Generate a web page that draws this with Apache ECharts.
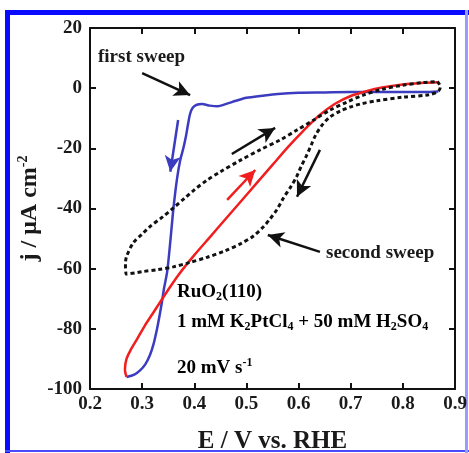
<!DOCTYPE html>
<html><head><meta charset="utf-8">
<script src="https://cdn.jsdelivr.net/npm/echarts@6/dist/echarts.min.js"></script>
<style>html,body{margin:0;padding:0;background:#fff}#c{width:469px;height:453px}</style>
</head><body><div id="c"></div>
<script>
// ---- data ----
const xTickLabels = ['0.2','0.3','0.4','0.5','0.6','0.7','0.8','0.9'];
const yTickLabels = ['-100','-80','-60','-40','-20','0','20'];

// first sweep (blue), cathodic from 0.87 V
const firstE = [0.868,0.84,0.80,0.75,0.70,0.65,0.60,0.56,0.53,0.50,0.48,0.46,0.445,0.43,0.415,0.405,0.397,0.392,0.388,0.384,0.379,0.373,0.367,0.36,0.354,0.348,0.342,0.338,0.333,0.328,0.322,0.315,0.306,0.296,0.285,0.27];
const firstJ = [-1.1,-1.3,-1.3,-1.3,-1.3,-1.4,-1.5,-1.9,-2.5,-3.2,-4.2,-5.3,-6.0,-5.8,-5.3,-5.5,-6.5,-8.5,-12,-16,-20,-24,-30,-40,-51,-61,-66.5,-71,-76,-80.5,-85,-88.7,-91.8,-93.8,-95.2,-96];

// return sweep (red), anodic from 0.27 V
const returnE = [0.27,0.267,0.27,0.278,0.29,0.305,0.32,0.335,0.35,0.37,0.40,0.43,0.46,0.49,0.52,0.55,0.58,0.61,0.64,0.67,0.70,0.73,0.76,0.80,0.84,0.866];
const returnJ = [-96,-93.5,-90,-87,-83.5,-79,-75,-71,-67,-62,-55.5,-49.5,-43.5,-37.5,-31.5,-25.5,-19.5,-14,-9,-5.2,-2.6,-1,0.2,1.2,1.8,2];

// second sweep (black dotted)
const secondE = [0.866,0.872,0.868,0.85,0.80,0.75,0.72,0.70,0.68,0.66,0.645,0.633,0.624,0.615,0.605,0.596,0.585,0.571,0.558,0.545,0.533,0.513,0.49,0.46,0.425,0.39,0.36,0.33,0.30,0.27,0.268,0.27,0.283,0.30,0.315,0.34,0.36,0.38,0.40,0.425,0.45,0.488,0.526,0.565,0.597,0.629,0.66,0.693,0.724,0.76,0.80,0.84,0.866];
const secondJ = [2.2,0.5,-1.0,-2.2,-3.0,-4.2,-5.2,-6.2,-7.6,-9.6,-12.3,-15.5,-19,-22.5,-26,-29.5,-32.8,-36.5,-40.5,-43.5,-46,-49.2,-51.6,-54,-56.2,-58,-59.4,-60.3,-61,-61.8,-58.5,-56,-51.4,-48.5,-46,-42.7,-39.8,-36.8,-33.8,-30.5,-27.8,-24,-20.5,-17.2,-13.9,-10.6,-7.3,-4.6,-2.3,-0.4,1.0,1.9,2.2];

// arrows: [tailE, tailJ, headE, headJ, colour]
const arrows = [
  [0.300, 5.0, 0.392, -2.3, '#111'],
  [0.369, -10.6, 0.354, -27.8, '#3c3cc0'],
  [0.472, -21.9, 0.555, -13.2, '#111'],
  [0.463, -37.1, 0.517, -27.2, '#f01e1e'],
  [0.641, -20.5, 0.597, -36.1, '#111'],
  [0.641, -54.4, 0.541, -48.8, '#111']
];

const zip = (a, b) => a.map((v, i) => [v, b[i]]);

const chart = echarts.init(document.getElementById('c'), null, {renderer: 'canvas'});
const FONT = 'Liberation Serif';
const txt = '#1a1a1a';

const axisCommon = {
  axisLine: {show: true, onZero: false, lineStyle: {color: '#111', width: 2}},
  axisTick: {show: true, inside: true, length: 6, lineStyle: {color: '#111', width: 2}},
  splitLine: {show: false}
};

const baseT = {fontFamily: FONT, fontWeight: 'bold', fontSize: 19, color: txt};
const subT = {fontFamily: FONT, fontWeight: 'bold', fontSize: 12, color: txt, padding: [10, 0, 0, 0]};
const supT = {fontFamily: FONT, fontWeight: 'bold', fontSize: 12, color: txt, padding: [0, 0, 10, 0]};

chart.setOption({
  animation: false,
  backgroundColor: '#fff',
  grid: {left: 90, right: 14, top: 28, bottom: 64, containLabel: false, outerBoundsMode: 'none'},
  xAxis: [
    Object.assign({
      type: 'value', min: 0.2, max: 0.9, interval: 0.1, position: 'bottom',
      name: 'E / V vs. RHE', nameLocation: 'middle', nameGap: 40, nameMoveOverlap: false,
      nameTextStyle: {fontFamily: FONT, fontWeight: 'bold', fontSize: 25, color: txt},
      axisLabel: {fontFamily: FONT, fontWeight: 'bold', fontSize: 19, color: txt, margin: 6,
        formatter: v => xTickLabels[Math.round((v - 0.2) * 10)]}
    }, axisCommon),
    Object.assign({
      type: 'value', min: 0.2, max: 0.9, interval: 0.1, position: 'top',
      axisLabel: {show: false}
    }, axisCommon)
  ],
  yAxis: [
    Object.assign({
      type: 'value', min: -100, max: 20, interval: 20, position: 'left',
      name: '{m|j / μA cm}{s|-2}', nameLocation: 'middle', nameGap: 46, nameMoveOverlap: false,
      nameTextStyle: {fontFamily: FONT, fontWeight: 'bold', fontSize: 24, color: txt,
        rich: {m: {fontFamily: FONT, fontWeight: 'bold', fontSize: 24, color: txt},
               s: {fontFamily: FONT, fontWeight: 'bold', fontSize: 14, color: txt, padding: [0, 0, 14, 0]}}},
      axisLabel: {fontFamily: FONT, fontWeight: 'bold', fontSize: 19, color: txt, margin: 8,
        formatter: v => yTickLabels[Math.round((v + 100) / 20)]}
    }, axisCommon),
    Object.assign({
      type: 'value', min: -100, max: 20, interval: 20, position: 'right',
      axisLabel: {show: false}
    }, axisCommon)
  ],
  series: [
    {type: 'line', name: 'first sweep', data: zip(firstE, firstJ), showSymbol: false, smooth: 0.3,
     lineStyle: {color: '#3c3cc0', width: 2.5}, z: 3},
    {type: 'line', name: 'return', data: zip(returnE, returnJ), showSymbol: false, smooth: 0.3,
     lineStyle: {color: '#f01e1e', width: 2.5}, z: 4},
    {type: 'line', name: 'second sweep', data: zip(secondE, secondJ), showSymbol: false, smooth: 0.3,
     lineStyle: {color: '#111', width: 3, type: [4, 3]}, z: 5},
    {type: 'line', name: 'arrows', data: [], z: 6,
     markLine: {
       silent: true, animation: false, label: {show: false},
       emphasis: {disabled: true},
       data: arrows.map(a => [
         {coord: [a[0], a[1]], symbol: 'none', lineStyle: {color: a[4], width: 2.5, type: 'solid'}},
         {coord: [a[2], a[3]], symbol: 'arrow', symbolSize: [12, 16]}
       ])
     }}
  ],
  graphic: [
    {type: 'rect', shape: {x: 5, y: 10, width: 5, height: 443}, style: {fill: '#0a0aff'}, silent: true},
    {type: 'rect', shape: {x: 5, y: 10, width: 464, height: 5}, style: {fill: '#0a0aff'}, silent: true},
    {type: 'rect', shape: {x: 5, y: 450, width: 464, height: 2}, style: {fill: '#4a4aff'}, silent: true},
    {type: 'rect', shape: {x: 465, y: 10, width: 3, height: 443}, style: {fill: '#9a9aff'}, silent: true},
    {type: 'text', x: 98, y: 57, style: {text: 'first sweep', fontFamily: FONT, fontWeight: 'bold', fontSize: 19, fill: txt, verticalAlign: 'middle'}},
    {type: 'text', x: 326, y: 253, style: {text: 'second sweep', fontFamily: FONT, fontWeight: 'bold', fontSize: 19, fill: txt, verticalAlign: 'middle'}},
    {type: 'text', x: 177, y: 292, style: {text: '{b|RuO}{s|2}{b|(110)}', verticalAlign: 'middle', rich: {b: baseT, s: subT}}},
    {type: 'text', x: 177, y: 322, style: {text: '{b|1 mM K}{s|2}{b|PtCl}{s|4}{b| + 50 mM H}{s|2}{b|SO}{s|4}', verticalAlign: 'middle', rich: {b: baseT, s: subT}}},
    {type: 'text', x: 177, y: 368, style: {text: '{b|20 mV s}{p|-1}', verticalAlign: 'middle', rich: {b: baseT, p: supT}}}
  ]
});
</script>
</body></html>
